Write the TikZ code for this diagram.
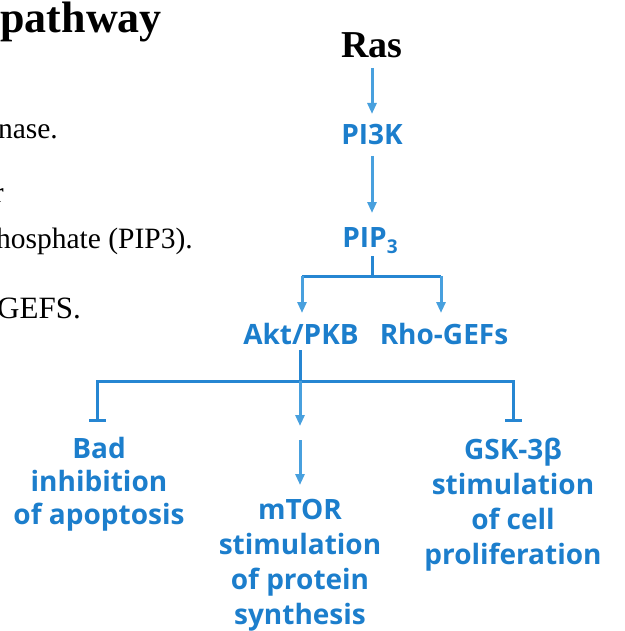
\documentclass[tikz,border=0pt]{standalone}
\usepackage{fontspec}
\setmainfont{Liberation Serif}
\newfontfamily\bluefont{Open Sans}
\usetikzlibrary{arrows.meta}
\definecolor{txtblue}{RGB}{28,126,204}
\definecolor{arrblue}{RGB}{72,160,222}
\definecolor{linblue}{RGB}{38,134,210}
\tikzset{
  lbl/.style={font=\bluefont\bfseries\fontsize{28}{35}\selectfont, text=txtblue, inner sep=0pt, align=center, anchor=base},
  side/.style={font=\fontsize{29.5}{31}\selectfont, text=black, inner sep=0pt, anchor=base east},
  act/.style={draw=arrblue, line width=3pt, -{Triangle[length=11pt,width=9pt]}},
  link/.style={draw=linblue, line width=3pt},
  inh/.style={draw=linblue, line width=3pt, -{Bar[width=17pt,line width=3pt]}},
}
\begin{document}
\begin{tikzpicture}[x=1pt,y=-1pt]
\useasboundingbox (0,0) rectangle (624,631);
\clip (0,0) rectangle (624,631);
% left clipped text
\node[side, font=\bfseries\fontsize{44}{46}\selectfont] (t0) at (162,33) {pathway};
\node[side] (t1) at (58,139) {nase.};
\node[side] (t2) at (4,202) {r};
\node[side] (t3) at (193,248) {hosphate (PIP3).};
\node[side, font=\fontsize{31}{32}\selectfont] (t4) at (81,318) {GEFS.};
% diagram
\node[inner sep=0pt, anchor=base, font=\bfseries\fontsize{38}{40}\selectfont] (ras) at (372,58) {Ras};
\node[lbl] (pi3k) at (372,145) {PI3K};
\node[lbl] (pip3) at (370,247) {PIP\raisebox{-6pt}{\fontsize{19}{19}\selectfont 3}};
\node[lbl] (akt) at (301,344) {Akt/PKB};
\node[lbl] (rho) at (444,344) {Rho-GEFs};
\node[lbl] (bad) at (99,524) {Bad\\[-2pt]inhibition\\[-2pt]of apoptosis};
\node[lbl] (mtor) at (300,624) {mTOR\\stimulation\\of protein\\synthesis};
\node[lbl] (gsk) at (513,564) {GSK-3β\\stimulation\\of cell\\proliferation};
\coordinate (j1) at (372,276);
\coordinate (j2) at (300,381);
\coordinate (gap) at (300,440);
% connectors
\draw[act] (372,68) -- (372,114);
\draw[act] (372,156) -- (372,213);
\draw[link] (372,256) -- (j1);
\draw[link] (302,276) -- (441,276);
\draw[act] (302,276) -- (302,313);
\draw[act] (441,276) -- (441,313);
\draw[link] (300,350) -- (j2);
\draw[link] (97,381) -- (514,381);
\draw[inh] (97,380) -- (97,422);
\draw[inh] (513,380) -- (513,422);
\draw[act] (j2) -- (300,426);
\draw[act] (gap) -- (300,485);
\end{tikzpicture}
\end{document}
